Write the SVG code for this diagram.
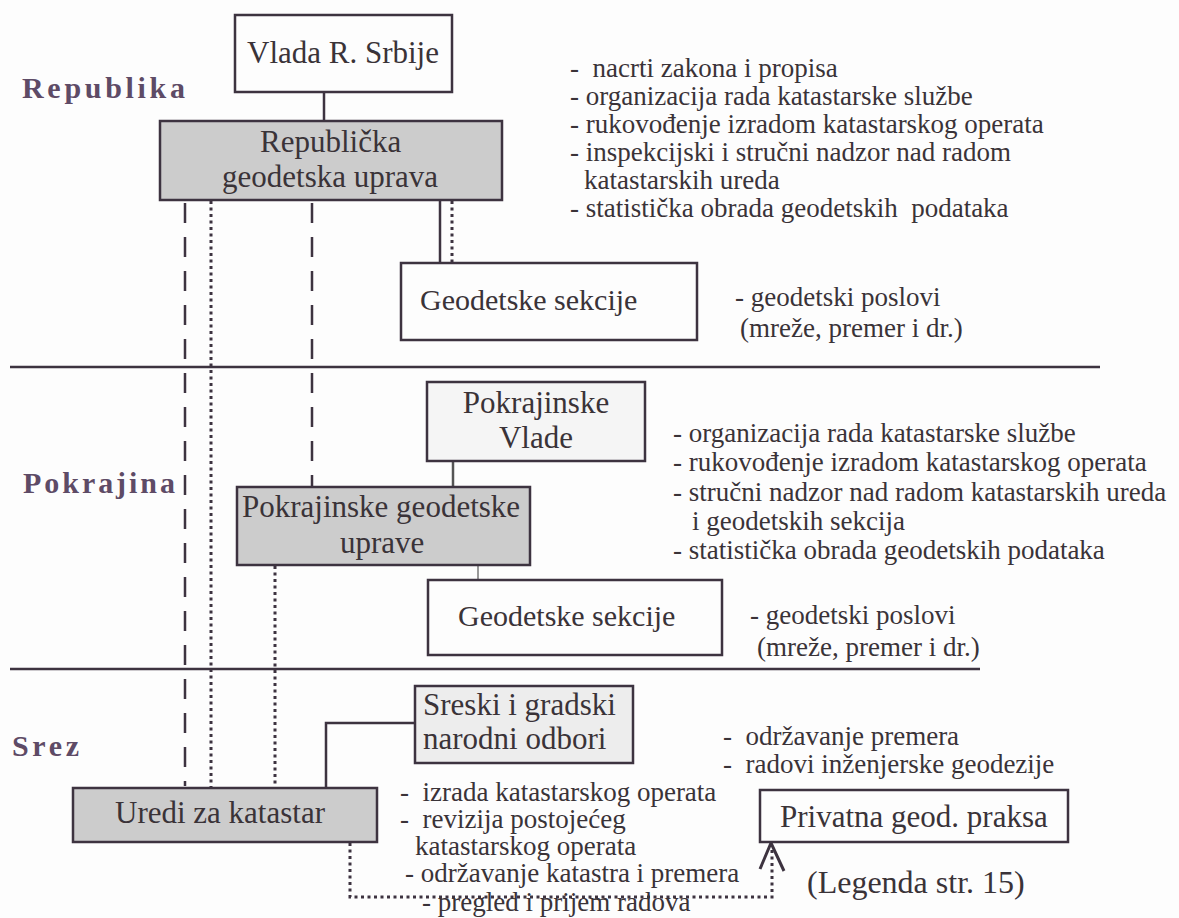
<svg xmlns="http://www.w3.org/2000/svg" width="1179" height="918" viewBox="0 0 1179 918" font-family="'Liberation Serif', 'Times New Roman', 'DejaVu Serif', serif">
<style>
.box{stroke:#3d3340;stroke-width:2.5}
.white{fill:#fdfdfd}
.gray{fill:#cccccc}
.light{fill:#ededed}
.lbl{font-family:'Liberation Serif','Times New Roman',serif;font-size:31px;fill:#3a3338}
.txt{font-family:'Liberation Serif','Times New Roman',serif;font-size:27px;fill:#3a3338}
.lev{font-family:'Liberation Serif','Times New Roman',serif;font-size:30px;font-weight:bold;fill:#5e4b66}
.sol{stroke:#3d3340;stroke-width:2.5;fill:none}
.dash{stroke:#3d3340;stroke-width:2.5;stroke-dasharray:20 14;fill:none}
.dot{stroke:#3d3340;stroke-width:3;stroke-dasharray:3 3.5;fill:none}
.hr{stroke:#3d3340;stroke-width:2.5}
</style>
<rect width="1179" height="918" fill="#fdfdfd"/>

<g id="levels">
<text class="lev" x="22" y="98" textLength="163" lengthAdjust="spacing">Republika</text>
<text class="lev" x="23" y="493" textLength="152" lengthAdjust="spacing">Pokrajina</text>
<text class="lev" x="12" y="756" textLength="67" lengthAdjust="spacing">Srez</text>
<line class="hr" x1="10" y1="367" x2="1100" y2="367"/>
<line class="hr" x1="10" y1="669" x2="980" y2="669"/>
</g>

<g id="connectors">
<line class="sol" x1="324" y1="92" x2="324" y2="121"/>
<line class="dash" x1="185" y1="203" x2="185" y2="786"/>
<line class="dot" x1="211" y1="201" x2="211" y2="788"/>
<line class="dash" x1="312" y1="203" x2="312" y2="487"/>
<line class="sol" x1="440" y1="200" x2="440" y2="263"/>
<line class="dot" x1="452" y1="201" x2="452" y2="263"/>
<line class="sol" x1="453" y1="461" x2="453" y2="487" style="stroke:#555"/>
<line class="sol" x1="478" y1="565" x2="478" y2="580" style="stroke:#999;stroke-width:2"/>
<line class="dot" x1="275" y1="566" x2="275" y2="788"/>
<polyline class="sol" points="415,723 326,723 326,788"/>
<polyline class="dot" points="350,843 350,897 772,897 772,848"/>
<polyline class="sol" points="760,869 771,843 784,871" style="stroke-width:3"/>
</g>

<g id="vlada">
<rect class="box white" x="235" y="15" width="217" height="77"/>
<text class="lbl" x="247" y="63">Vlada R. Srbije</text>
</g>

<g id="republicka">
<rect class="box gray" x="160" y="121" width="342" height="79"/>
<text class="lbl" x="260" y="152">Republička</text>
<text class="lbl" x="222" y="187">geodetska uprava</text>
</g>

<g id="rep-tasks">
<text class="txt" x="570" y="77" xml:space="preserve">-  nacrti zakona i propisa</text>
<text class="txt" x="570" y="105">- organizacija rada katastarske službe</text>
<text class="txt" x="570" y="133">- rukovođenje izradom katastarskog operata</text>
<text class="txt" x="570" y="161">- inspekcijski i stručni nadzor nad radom</text>
<text class="txt" x="584" y="189">katastarskih ureda</text>
<text class="txt" x="570" y="217" xml:space="preserve">- statistička obrada geodetskih  podataka</text>
</g>

<g id="geosek1">
<rect class="box white" x="401" y="263" width="296" height="77"/>
<text class="lbl" x="420" y="310" style="font-size:30px">Geodetske sekcije</text>
</g>
<g id="geosek1-tasks">
<text class="txt" x="735" y="306">- geodetski poslovi</text>
<text class="txt" x="740" y="337">(mreže, premer i dr.)</text>
</g>

<g id="pokr-vlade">
<rect class="box" x="427" y="382" width="218" height="79" fill="#f5f5f5"/>
<text class="lbl" x="536" y="413" text-anchor="middle">Pokrajinske</text>
<text class="lbl" x="536" y="448" text-anchor="middle">Vlade</text>
</g>

<g id="pokr-tasks">
<text class="txt" x="673" y="442">- organizacija rada katastarske službe</text>
<text class="txt" x="673" y="471">- rukovođenje izradom katastarskog operata</text>
<text class="txt" x="673" y="501">- stručni nadzor nad radom katastarskih ureda</text>
<text class="txt" x="692" y="530">i geodetskih sekcija</text>
<text class="txt" x="673" y="559">- statistička obrada geodetskih podataka</text>
</g>

<g id="pokr-uprave">
<rect class="box gray" x="237" y="487" width="293" height="78"/>
<text class="lbl" x="242" y="517">Pokrajinske geodetske</text>
<text class="lbl" x="340" y="553">uprave</text>
</g>

<g id="geosek2">
<rect class="box white" x="428" y="580" width="294" height="75"/>
<text class="lbl" x="458" y="626" style="font-size:30px">Geodetske sekcije</text>
</g>
<g id="geosek2-tasks">
<text class="txt" x="750" y="624">- geodetski poslovi</text>
<text class="txt" x="757" y="656">(mreže, premer i dr.)</text>
</g>

<g id="sreski">
<rect class="box light" x="415" y="686" width="218" height="77"/>
<text class="lbl" x="423" y="715">Sreski i gradski</text>
<text class="lbl" x="423" y="749">narodni odbori</text>
</g>

<g id="sreski-tasks">
<text class="txt" x="723" y="745" xml:space="preserve">-  održavanje premera</text>
<text class="txt" x="723" y="773" xml:space="preserve">-  radovi inženjerske geodezije</text>
</g>

<g id="uredi">
<rect class="box gray" x="73" y="788" width="304" height="54"/>
<text class="lbl" x="115" y="823">Uredi za katastar</text>
</g>

<g id="uredi-tasks">
<text class="txt" x="400" y="801" xml:space="preserve">-  izrada katastarskog operata</text>
<text class="txt" x="400" y="828" xml:space="preserve">-  revizija postojećeg</text>
<text class="txt" x="415" y="855">katastarskog operata</text>
<text class="txt" x="405" y="882">- održavanje katastra i premera</text>
<text class="txt" x="422" y="911">- pregled i prijem radova</text>
</g>

<g id="privatna">
<rect class="box white" x="760" y="790" width="308" height="52"/>
<text class="lbl" x="780" y="827">Privatna geod. praksa</text>
</g>

<g id="legenda">
<text class="lbl" x="807" y="893" style="font-size:32px">(Legenda str. 15)</text>
</g>
</svg>
